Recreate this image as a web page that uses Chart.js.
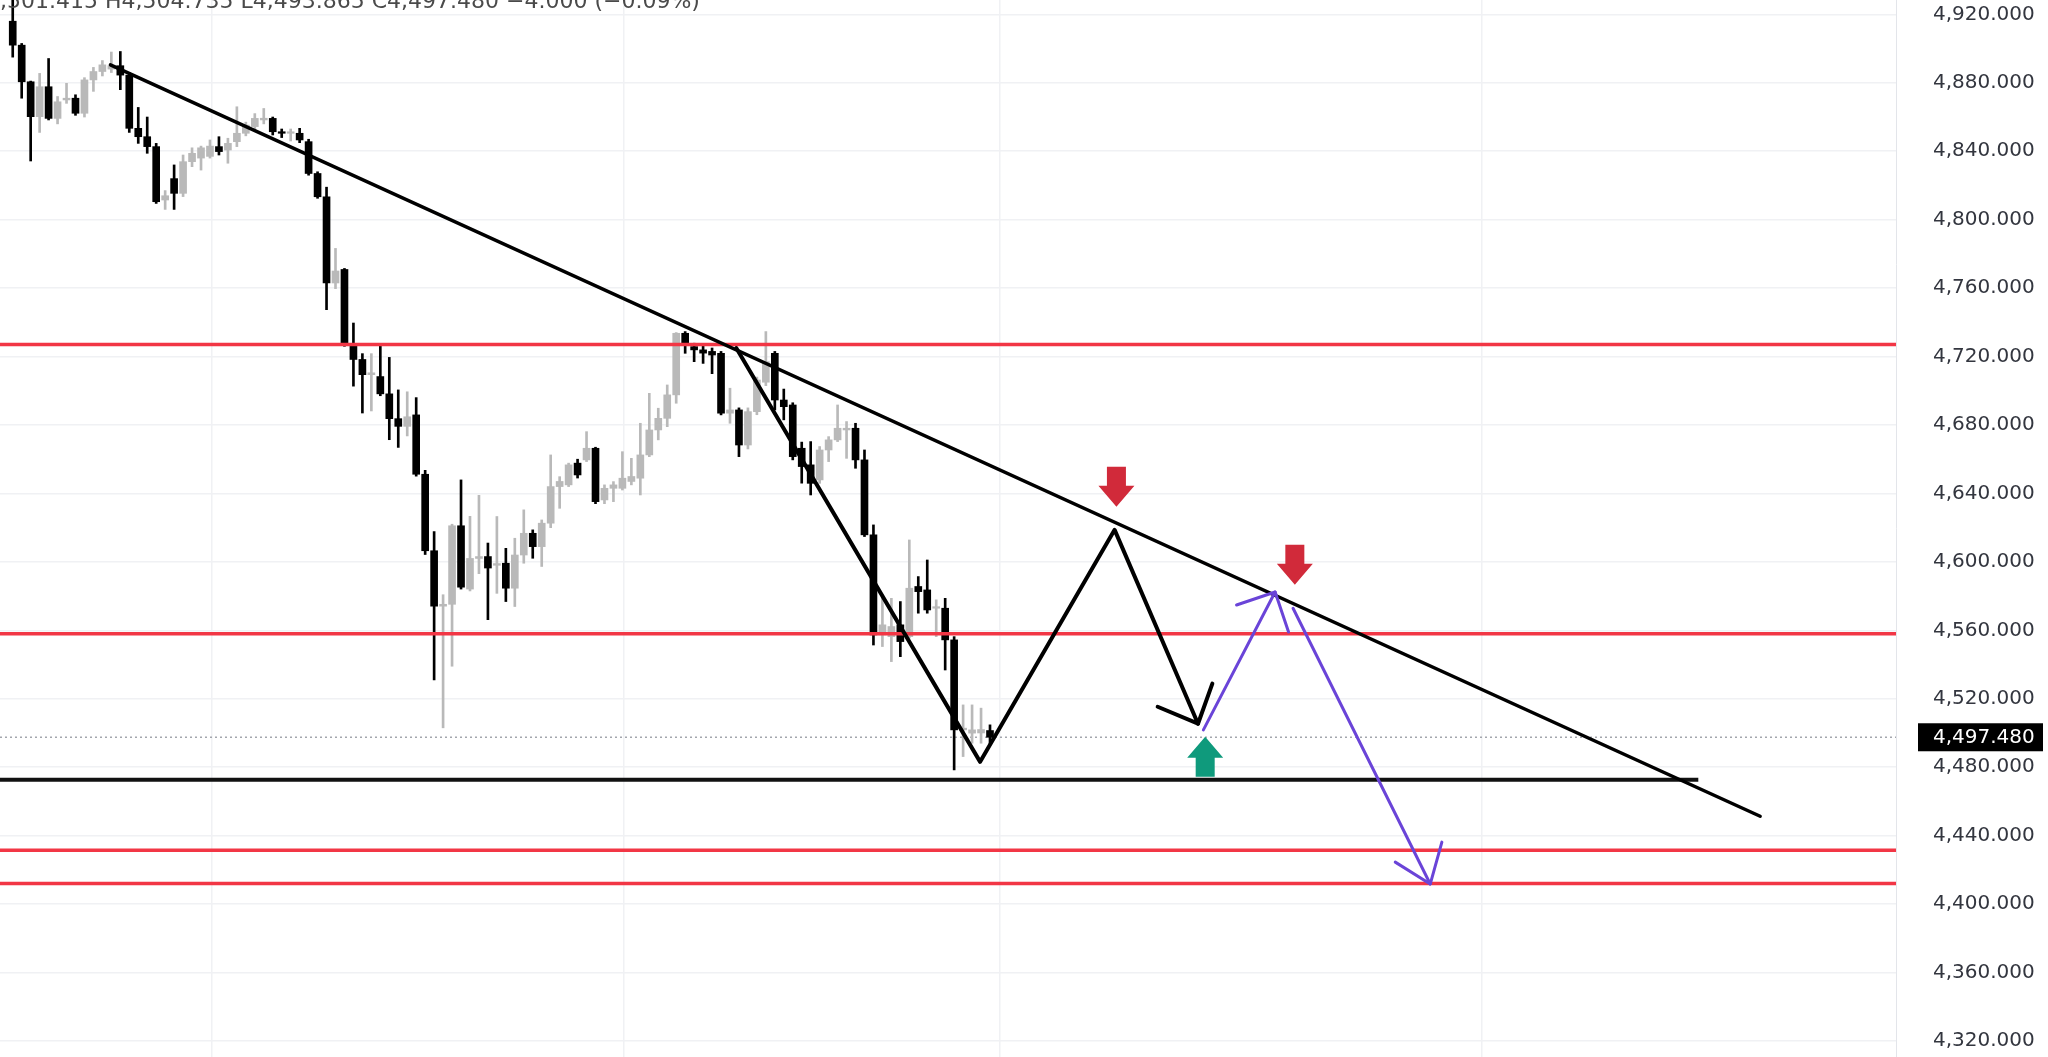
<!DOCTYPE html>
<html>
<head>
<meta charset="utf-8">
<title>XAUUSD – descending triangle</title>
<script src="https://cdn.jsdelivr.net/npm/chart.js@4.4.1/dist/chart.umd.min.js"></script>
<style>
  html, body { margin: 0; padding: 0; background: #fff; overflow: hidden; }
  #wrap { width: 2048px; height: 1057px; }
</style>
</head>
<body>
<div id="wrap"><canvas id="chart" width="2048" height="1057"></canvas></div>
<script>
// candles, oldest first (bar index = position in array)
const candleOpen = [
  4916, 4902, 4880.6, 4860.2, 4877.7, 4859.2, 4870, 4871, 4862.2, 4881.7,
  4886.6, 4888, 4890, 4884.5, 4853.4, 4848.5, 4842.7, 4811.5, 4824, 4815.4,
  4833.9, 4836, 4837, 4842.7, 4840.7, 4845.6, 4850.5, 4854.4, 4858.3, 4859.2,
  4851.4, 4850.5, 4850.5, 4845.6, 4827, 4813.4, 4763, 4770.9, 4727.3, 4718.3,
  4709.4, 4708.3, 4698.2, 4683.7, 4679.2, 4685.9, 4651.2, 4606.5, 4574.1, 4575.2,
  4621.1, 4584.1, 4602, 4603.1, 4598, 4599.2, 4584.6, 4604, 4616.7, 4608.9,
  4622.6, 4644, 4645, 4657.7, 4659.6, 4666.4, 4636.2, 4643, 4643, 4647,
  4648.9, 4662.5, 4677.1, 4683.9, 4697.6, 4733.6, 4725.8, 4723.9, 4723, 4721.9,
  4686.9, 4688.8, 4668.3, 4687.8, 4705, 4721.9, 4694.6, 4691.7, 4666.4, 4656.7,
  4647.9, 4665.4, 4671.3, 4677.1, 4678.1, 4659.6, 4615.8, 4557.3, 4556.3, 4563.2,
  4556.3, 4585.6, 4583.6, 4572.9, 4572.9, 4554.4, 4501.8, 4499.9, 4500, 4501.415
];
const candleHigh = [
  4935, 4903, 4881, 4885.5, 4894.2, 4872, 4879.7, 4873, 4883, 4889,
  4893, 4898, 4898.3, 4886, 4865.6, 4860, 4844.6, 4817, 4832, 4837.8,
  4842, 4843, 4846.6, 4848.5, 4847.6, 4866, 4857, 4862, 4865, 4860,
  4853, 4853, 4853.4, 4847, 4828, 4819, 4783.2, 4771.5, 4739.6, 4721.7,
  4721.7, 4726.2, 4719.5, 4700.5, 4699.4, 4696, 4653.5, 4617.7, 4580.8, 4622,
  4647.9, 4626.6, 4638.9, 4611, 4626.5, 4607.9, 4613.8, 4630.4, 4618.7, 4624.5,
  4662.5, 4649.8, 4657.7, 4660, 4676.1, 4667, 4645, 4646.9, 4664.4, 4660.5,
  4681, 4698.5, 4689.8, 4703.4, 4734, 4734.6, 4727.8, 4726, 4725, 4723,
  4701.5, 4690, 4690, 4708, 4734.6, 4723, 4701, 4693, 4670, 4670.3,
  4667.4, 4673.2, 4691.7, 4682, 4681, 4665.4, 4621.6, 4579.7, 4578.7, 4576.8,
  4612.8, 4591.4, 4601.1, 4577.8, 4578.7, 4556.3, 4516.4, 4516.4, 4514.5, 4504.735
];
const candleLow = [
  4895, 4871, 4834.3, 4851, 4858.3, 4856, 4868, 4861, 4860, 4875,
  4884, 4886, 4876, 4851, 4844.6, 4838.8, 4809.5, 4806, 4806, 4813.5,
  4831, 4829, 4836, 4837.8, 4833, 4842.7, 4849, 4852.4, 4856, 4849.5,
  4848, 4846, 4845, 4826, 4812.5, 4747.4, 4759.7, 4726, 4702.7, 4687,
  4688.2, 4697.1, 4671.4, 4666.9, 4673.6, 4650.1, 4604.3, 4531, 4503, 4539,
  4584.1, 4583, 4593.1, 4566.2, 4581.6, 4576.8, 4573.9, 4599.2, 4602.1, 4597.3,
  4620, 4631.3, 4644, 4649, 4658.6, 4634, 4634, 4635.2, 4642, 4645,
  4639.1, 4661.5, 4671.3, 4679, 4692.7, 4721.9, 4717, 4716, 4710, 4685.9,
  4681, 4661.5, 4666, 4686, 4703, 4688.8, 4683, 4659.6, 4646, 4639.1,
  4645.9, 4658.6, 4670.3, 4660.5, 4654.7, 4614.8, 4551.4, 4550.5, 4541.7, 4544.6,
  4555.4, 4570, 4570, 4556.3, 4536.8, 4478.4, 4486.2, 4494, 4494, 4493.865
];
const candleClose = [
  4902, 4880.6, 4860.2, 4877.7, 4859.2, 4868.9, 4871, 4862.2, 4881.7, 4886.6,
  4890.5, 4890, 4884.5, 4853.4, 4848.5, 4842.7, 4810.5, 4814, 4815.4, 4833.9,
  4838.8, 4842, 4843, 4839.8, 4844.6, 4850.5, 4855.3, 4859.2, 4859.3, 4851.4,
  4850.5, 4851, 4846.6, 4827, 4813.4, 4763.1, 4770, 4727.3, 4718.3, 4709.4,
  4710.5, 4698.2, 4683.7, 4679.2, 4684.8, 4651.2, 4606.5, 4574.1, 4575.2, 4621.1,
  4585.2, 4602, 4603.1, 4596.4, 4599, 4584.6, 4604, 4616.7, 4608.9, 4622.6,
  4644, 4647, 4656.7, 4650.8, 4666.4, 4635.2, 4643, 4645, 4648.9, 4649.9,
  4662.5, 4677.1, 4683.9, 4697.6, 4733.6, 4726.8, 4723.9, 4722, 4720.9, 4686.9,
  4688.8, 4668.3, 4687.8, 4706.3, 4717, 4694.6, 4690.7, 4661.5, 4655.7, 4645.9,
  4665.4, 4671.3, 4678.1, 4678.1, 4659.6, 4615.8, 4557.3, 4563.2, 4562.2, 4553.4,
  4584.6, 4582.6, 4571.9, 4573.8, 4554.4, 4501.8, 4502.8, 4501.8, 4502, 4497.48
];

const lastPrice = 4497.48;
const headerText = 'O4,501.415 H4,504.735 L4,493.865 C4,497.480 \u22124.000 (\u22120.09%)';

// price axis ticks and time separators (bar units)
const priceTicks = [4320, 4360, 4400, 4440, 4480, 4520, 4560, 4600, 4640, 4680, 4720, 4760, 4800, 4840, 4880, 4920];
const timeGrid = [22.2, 68.2, 110.1, 163.8];

// drawings
const redLevels = [4727, 4558, 4431.5, 4412];
const supportLevel = 4472.7;
const supportEndX = 188.0;
const trendX = [10.9, 194.9];
const trendY = [4890.5, 4451.3];
const zigzagX = [80.7, 107.9, 122.9, 132.2];
const zigzagY = [4725.0, 4483.1, 4618.7, 4505.4];
const zigzagHeadX = [127.7, 132.2, 133.8];
const zigzagHeadY = [4515.3, 4505.4, 4528.8];
const retestX = [132.8, 140.8];
const retestY = [4501.8, 4582.4];
const retestHeadX = [136.5, 140.8, 142.3];
const retestHeadY = [4574.8, 4582.4, 4559.0];
const dropX = [142.8, 158.1];
const dropY = [4572.9, 4411.7];
const dropHeadX = [154.2, 158.1, 159.4];
const dropHeadY = [4424.5, 4411.7, 4436.2];
const sellArrowX = [123.1, 143.0];
const sellArrowY = [4632.2, 4586.6];
const buyArrowX = [133.0];
const buyArrowY = [4497.8];

const xMin = -1.42, xMax = 210.05;
const yMin = 4310.6, yMax = 4928.4;

const UP = '#b9b9b9';
const DOWN = '#000000';
const FONT = '"DejaVu Sans", "Liberation Sans", sans-serif';

const candleColor = candleOpen.map((o, i) => (candleClose[i] >= o ? UP : DOWN));
const pts = (xs, ys) => xs.map((x, i) => ({ x, y: ys[i] }));

function levelSegments(levels, x0, x1) {
  const out = [];
  levels.forEach(v => {
    out.push({ x: x0, y: v }, { x: x1, y: v }, { x: x1, y: null });
  });
  return out;
}

function lineSet(data, color, width, order, extra) {
  return Object.assign({
    type: 'line',
    data,
    borderColor: color,
    borderWidth: width,
    pointRadius: 0,
    fill: false,
    tension: 0,
    spanGaps: false,
    order,
    borderCapStyle: 'round',
    borderJoinStyle: 'round',
  }, extra || {});
}

function blockArrow(ctx, x, yTip, dir, color) {
  // dir 1 = pointing down, -1 = pointing up
  const len = 40, headLen = 21, headW = 36, shaftW = 19;
  const yBase = yTip - dir * len;
  const yNeck = yTip - dir * headLen;
  ctx.save();
  ctx.fillStyle = color;
  ctx.beginPath();
  ctx.moveTo(x - shaftW / 2, yBase);
  ctx.lineTo(x + shaftW / 2, yBase);
  ctx.lineTo(x + shaftW / 2, yNeck);
  ctx.lineTo(x + headW / 2, yNeck);
  ctx.lineTo(x, yTip);
  ctx.lineTo(x - headW / 2, yNeck);
  ctx.lineTo(x - shaftW / 2, yNeck);
  ctx.closePath();
  ctx.fill();
  ctx.restore();
}

const overlay = {
  id: 'overlay',
  afterDatasetsDraw(chart) {
    const { ctx, scales: { x, y } } = chart;
    sellArrowX.forEach((v, i) => {
      blockArrow(ctx, x.getPixelForValue(v), y.getPixelForValue(sellArrowY[i]), 1, '#d12a3a');
    });
    buyArrowX.forEach((v, i) => {
      blockArrow(ctx, x.getPixelForValue(v), y.getPixelForValue(buyArrowY[i]), -1, '#0f9a7c');
    });
  },
  afterDraw(chart) {
    const { ctx, chartArea, scales: { y } } = chart;
    ctx.save();
    // OHLC header, partly cut off by the top edge
    ctx.font = '22px ' + FONT;
    ctx.fillStyle = '#4a4a4a';
    ctx.textBaseline = 'alphabetic';
    ctx.textAlign = 'left';
    const skip = ctx.measureText('O4').width;
    ctx.fillText(headerText, -skip, 8);

    // last price tag
    const py = y.getPixelForValue(lastPrice);
    ctx.fillStyle = '#000';
    ctx.fillRect(chartArea.right + 22, py - 14, 125, 28);
    ctx.fillStyle = '#fff';
    ctx.font = '20px ' + FONT;
    ctx.textBaseline = 'middle';
    ctx.fillText(lastPrice.toLocaleString('en-US', { minimumFractionDigits: 3 }), chartArea.right + 37, py + 1);
    ctx.restore();
  },
};

Chart.defaults.font.family = FONT;

new Chart(document.getElementById('chart'), {
  type: 'bar',
  data: {
    datasets: [
      lineSet([{ x: xMin, y: lastPrice }, { x: xMax, y: lastPrice }], '#a3a6ad', 1.5, 9, { borderDash: [2, 3], borderCapStyle: 'butt' }),
      {
        type: 'bar',
        data: candleLow.map((l, i) => ({ x: i, y: [l, candleHigh[i]] })),
        backgroundColor: candleColor,
        barThickness: 2,
        grouped: false,
        borderWidth: 0,
        order: 8,
      },
      {
        type: 'bar',
        data: candleOpen.map((o, i) => ({ x: i, y: [o, candleClose[i]] })),
        backgroundColor: candleColor,
        barThickness: 7,
        minBarLength: 1.5,
        grouped: false,
        borderWidth: 0,
        order: 7,
      },
      lineSet(levelSegments(redLevels, xMin, xMax), '#f23645', 3.5, 4, { borderCapStyle: 'butt' }),
      lineSet([{ x: xMin, y: supportLevel }, { x: supportEndX, y: supportLevel }], '#111111', 4, 3, { borderCapStyle: 'butt' }),
      lineSet(pts(trendX, trendY), '#000000', 3.5, 2),
      lineSet(pts(zigzagX, zigzagY), '#000000', 4, 1),
      lineSet(pts(zigzagHeadX, zigzagHeadY), '#000000', 4, 1),
      lineSet(pts(retestX, retestY), '#6a44d8', 3, 0),
      lineSet(pts(retestHeadX, retestHeadY), '#6a44d8', 3, 0),
      lineSet(pts(dropX, dropY), '#6a44d8', 3, 0),
      lineSet(pts(dropHeadX, dropHeadY), '#6a44d8', 3, 0),
    ],
  },
  options: {
    responsive: false,
    animation: false,
    devicePixelRatio: 1,
    layout: { padding: 0, autoPadding: false },
    plugins: {
      legend: { display: false },
      tooltip: { enabled: false },
    },
    scales: {
      x: {
        type: 'linear',
        min: xMin,
        max: xMax,
        offset: false,
        afterBuildTicks: s => { s.ticks = timeGrid.map(v => ({ value: v })); },
        afterFit: s => { s.height = 0; s.paddingLeft = 0; s.paddingRight = 0; },
        ticks: { display: false },
        grid: { color: '#f0f1f4', lineWidth: 1.5, drawTicks: false, offset: false },
        border: { display: false },
      },
      y: {
        type: 'linear',
        position: 'right',
        min: yMin,
        max: yMax,
        afterBuildTicks: s => { s.ticks = priceTicks.map(v => ({ value: v })); },
        afterFit: s => { s.width = 152; s.paddingTop = 0; s.paddingBottom = 0; },
        ticks: {
          color: '#33363f',
          padding: 37,
          font: { size: 20, family: FONT },
          callback: v => Number(v).toLocaleString('en-US', { minimumFractionDigits: 3, maximumFractionDigits: 3 }),
        },
        grid: { color: '#f0f1f4', lineWidth: 1.5, drawTicks: false },
        border: { display: true, color: '#e3e5ea', width: 1 },
      },
    },
  },
  plugins: [overlay],
});
</script>
</body>
</html>
